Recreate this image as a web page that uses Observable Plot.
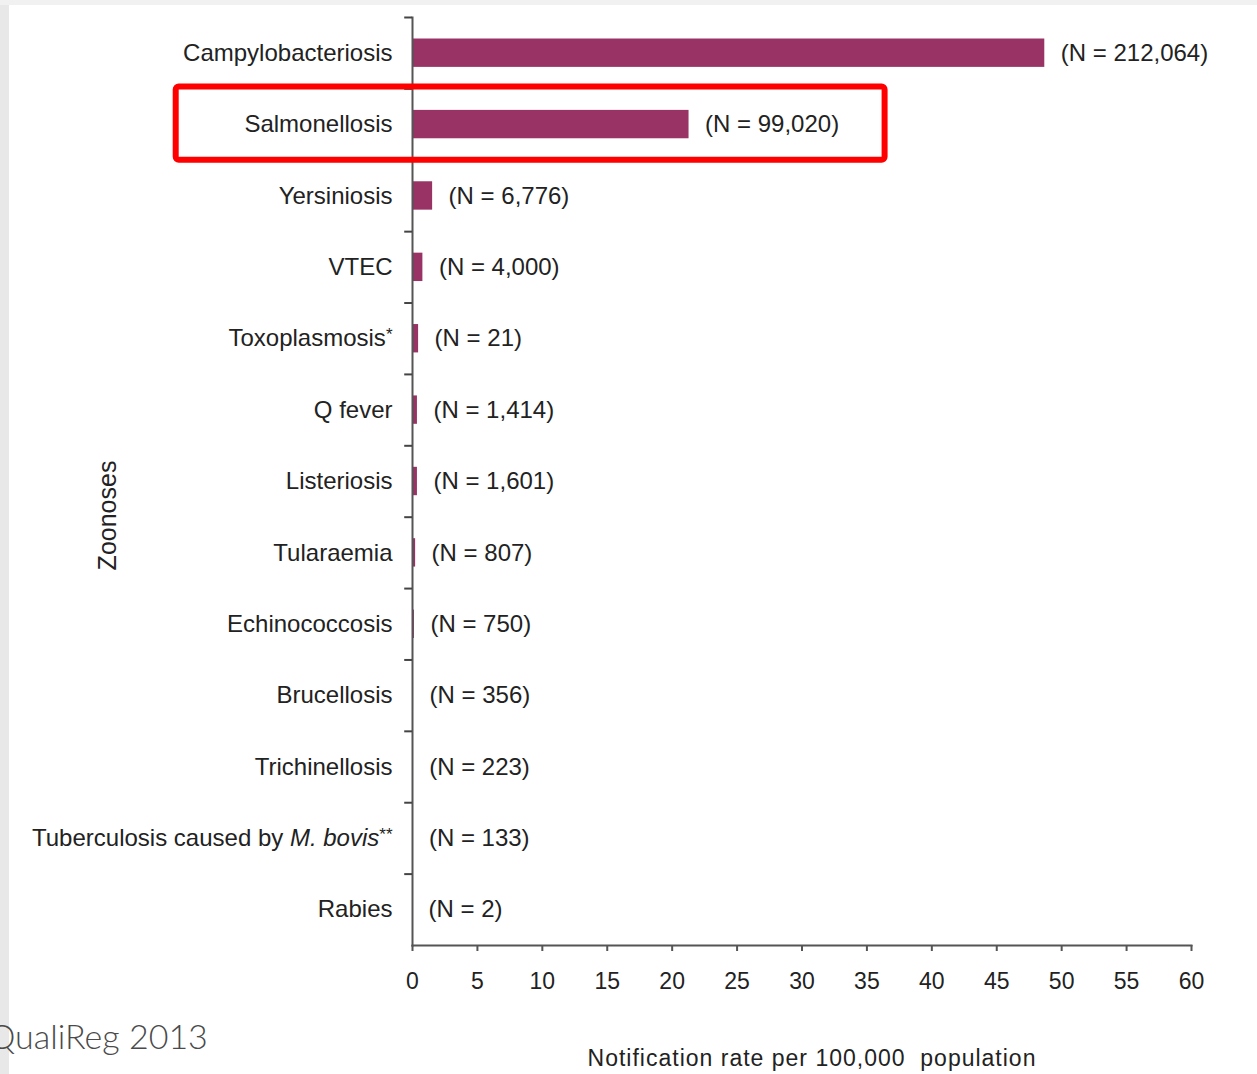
<!DOCTYPE html>
<html><head><meta charset="utf-8">
<script src="https://cdn.jsdelivr.net/npm/d3@7"></script>
<script src="https://cdn.jsdelivr.net/npm/@observablehq/plot@0.6"></script>
<style>
html,body{margin:0;padding:0;}
body{width:1257px;height:1074px;overflow:hidden;font-family:"Liberation Sans",Arial,sans-serif;
background:linear-gradient(to bottom,#f1f1f1 0,#f1f1f1 5px,rgba(255,255,255,0) 5px),linear-gradient(to right,#e8e8e8 0,#e8e8e8 9px,#fff 9px);}
#chart{position:absolute;left:0;top:0;}
</style></head><body><div id="chart"></div>
<script>
const categories = ["Campylobacteriosis","Salmonellosis","Yersiniosis","VTEC","Toxoplasmosis*","Q fever","Listeriosis","Tularaemia","Echinococcosis","Brucellosis","Trichinellosis","Tuberculosis caused by M. bovis**","Rabies"];
const rates = [48.7, 21.3, 1.55, 0.8, 0.47, 0.38, 0.38, 0.24, 0.15, 0.08, 0.05, 0.03, 0];
const counts = ["212,064","99,020","6,776","4,000","21","1,414","1,601","807","750","356","223","133","2"];
const xTicks = [0,5,10,15,20,25,30,35,40,45,50,55,60];
const highlight = ["Salmonellosis"];
const yTitle = "Zoonoses";
const xTitle = "Notification rate per 100,000  population";
const sourceNote = "QualiReg 2013";

const data = categories.map((c,i)=>({name:c, rate:rates[i], n:counts[i]}));
const font = "Liberation Sans, Arial, sans-serif";

const plot = Plot.plot({
  width:1257, height:1074,
  marginLeft:412, marginRight:66, marginTop:17, marginBottom:129,
  style:{background:"transparent", fontFamily:font, color:"#222", overflow:"visible"},
  x:{domain:[xTicks[0], xTicks[xTicks.length-1]]},
  y:{domain:categories, padding:0, round:false},
  marks:[
    Plot.barX(data,{y:"name", x:"rate", fill:"#993366", insetTop:21.5, insetBottom:21.5}),
    Plot.text(data,{y:"name", x:"rate", text:d=>`(N = ${d.n})`, textAnchor:"start", dx:16, fontSize:24, fill:"#222"}),
    Plot.frame({anchor:"left", stroke:"#555", strokeWidth:2}),
    Plot.frame({anchor:"bottom", stroke:"#555", strokeWidth:2}),
    Plot.ruleY(categories,{y:d=>d, x1:-0.6, x2:0, dy:-35.7, stroke:"#444", strokeWidth:2}),
    Plot.axisY({tickSize:0, tickPadding:20, label:null, fontSize:24, fill:"#222"}),
    Plot.axisX({ticks:xTicks, tickSize:6, tickPadding:21, label:null, fontSize:23, stroke:"#555", strokeWidth:2, fill:"#222"}),
    Plot.barX(highlight,{y:d=>d, x1:-18.2, x2:36.4, fill:"none", stroke:"#ff0000", strokeWidth:6, rx:3, insetTop:-2}),
    Plot.text([yTitle],{text:d=>d, frameAnchor:"left", textAnchor:"middle", rotate:-90, dx:-305, dy:34, fontSize:25, fill:"#222"}),
    Plot.text([xTitle],{text:d=>d, frameAnchor:"bottom", dx:10, dy:120, fontSize:23, fill:"#222"}),
    Plot.text([sourceNote],{text:d=>d, frameAnchor:"bottom-left", textAnchor:"start", dx:-424, dy:103, fontSize:34, fill:"#4a4a4a", fontFamily:"Lato", fontWeight:300})
  ]
});
document.getElementById("chart").appendChild(plot);

// post-process text styling
d3.select(plot).selectAll("text").each(function(){
  const t = this.textContent;
  if (t === xTitle) { this.setAttribute("letter-spacing","1"); this.style.whiteSpace = "pre"; }
  if (t === "Tuberculosis caused by M. bovis**") {
    const sel = d3.select(this); sel.text(null);
    sel.append("tspan").text("Tuberculosis caused by ");
    sel.append("tspan").attr("font-style","italic").text("M. bovis");
    sel.append("tspan").attr("font-size","17").attr("dy","-6").text("**");
  }
  if (t === "Toxoplasmosis*") {
    const sel = d3.select(this); sel.text(null);
    sel.append("tspan").text("Toxoplasmosis");
    sel.append("tspan").attr("font-size","17").attr("dy","-6").text("*");
  }
});
</script></body></html>
